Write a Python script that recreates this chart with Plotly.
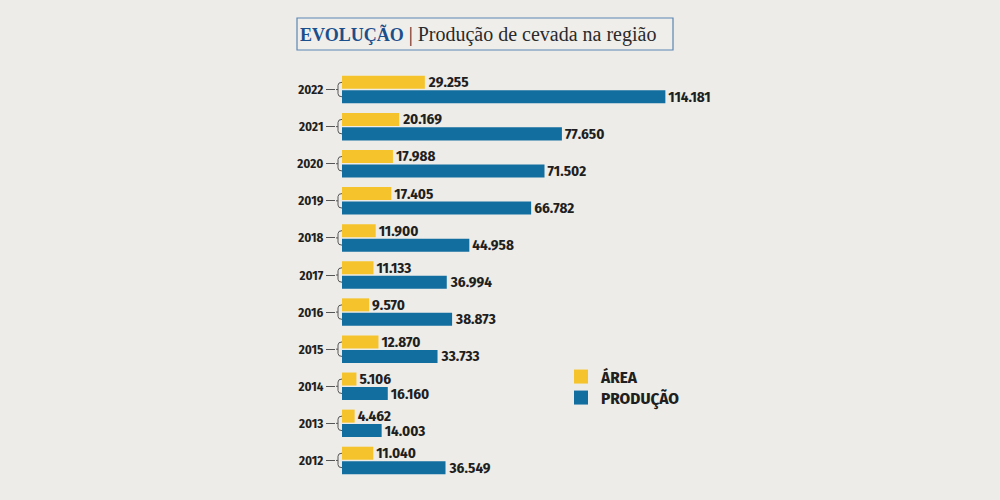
import plotly.graph_objects as go

# ---- data ----
anos = [2012, 2013, 2014, 2015, 2016, 2017, 2018, 2019, 2020, 2021, 2022]
area = [11040, 4462, 5106, 12870, 9570, 11133, 11900, 17405, 17988, 20169, 29255]
producao = [36549, 14003, 16160, 33733, 38873, 36994, 44958, 66782, 71502, 77650, 114181]
serie_nomes = ["ÁREA", "PRODUÇÃO"]
titulo_destaque = "EVOLUÇÃO"
titulo_resto = "| Produção de cevada na região"

# ---- style / layout constants ----
W, H = 1000, 500
ML, MR, MT, MB = 336, 260, 71, 21
AMARELO = "#f5c42c"
AZUL = "#136ea0"
TEXTO = "#1f1f1f"
BG = "#eeece8"
FONTE = "'Fira Sans Condensed', 'Roboto Condensed', 'Open Sans Condensed', sans-serif"
UNITS_PER_PX = 353.1          # x-axis scale
X0_PX = 6                     # bar base offset from plot left edge
x_min = -X0_PX * UNITS_PER_PX
x_max = (W - ML - MR - X0_PX) * UNITS_PER_PX
BARGAP = 0.22
OFF = (1 - BARGAP) / 4        # centre offset of each bar inside a group

pw = W - ML - MR
ph = H - MT - MB


def px_x(px):
    return (px - ML) / pw


def px_y(py):
    return 1 - (py - MT) / ph


fig = go.Figure()
# production first (lower bar in each group), area second (upper bar)
fig.add_trace(go.Bar(
    y=anos, x=producao, orientation="h", name=serie_nomes[1], showlegend=False,
    marker=dict(color=AZUL, line=dict(width=0)),
    texttemplate="%{x:,}", textposition="outside", cliponaxis=False,
    constraintext="none",
    textfont=dict(family=FONTE, size=15, color=TEXTO, weight="bold"),
))
fig.add_trace(go.Bar(
    y=anos, x=area, orientation="h", name=serie_nomes[0], showlegend=False,
    marker=dict(color=AMARELO, line=dict(width=0)),
    texttemplate="%{x:,}", textposition="outside", cliponaxis=False,
    constraintext="none",
    textfont=dict(family=FONTE, size=15, color=TEXTO, weight="bold"),
))
# legend entries (square swatches), one legend box each
for nome, cor, leg in [(serie_nomes[0], AMARELO, "legend"), (serie_nomes[1], AZUL, "legend2")]:
    fig.add_trace(go.Scatter(
        x=[None], y=[None], mode="markers", name=nome, legend=leg,
        marker=dict(symbol="square", size=14, color=cor, line=dict(width=0)),
        hoverinfo="skip",
    ))

# bracket connectors for every year
shapes = []
xv = -(X0_PX - 2) * UNITS_PER_PX
r = 3 / (ph / 11)
for a in anos:
    yt, yb = a + OFF, a - OFF
    path = (f"M 0,{yt} Q {xv},{yt} {xv},{yt - r} L {xv},{yb + r} "
            f"Q {xv},{yb} 0,{yb} M {x_min},{a} L {xv},{a}")
    shapes.append(dict(type="path", xref="x", yref="y", path=path,
                       line=dict(color="#555555", width=1)))

# title box
shapes.append(dict(type="rect", xref="paper", yref="paper",
                   x0=px_x(297), x1=px_x(673), y0=px_y(18), y1=px_y(50),
                   line=dict(color="#5b86b3", width=1.2), fillcolor="rgba(255,255,255,0.15)"))

fig.add_annotation(
    xref="paper", yref="paper", x=px_x(298), y=px_y(34),
    xanchor="left", yanchor="middle", showarrow=False,
    text=(f"<span style='color:#1b4f8c;font-size:18px'><b>{titulo_destaque}</b></span>"
          f" {titulo_resto}"),
    font=dict(family="Liberation Serif, Times New Roman, serif", size=20, color="#2a2a2a"),
)

leg_common = dict(
    xanchor="left", yanchor="top", bgcolor="rgba(0,0,0,0)",
    font=dict(family=FONTE, size=17, color=TEXTO, weight="bold"),
    itemwidth=30,
)

fig.update_layout(
    width=W, height=H,
    margin=dict(l=ML, r=MR, t=MT, b=MB, pad=0),
    paper_bgcolor=BG, plot_bgcolor="rgba(0,0,0,0)",
    barmode="group", bargap=BARGAP, bargroupgap=0.1,
    separators=",.",
    shapes=shapes,
    showlegend=True,
    legend=dict(x=px_x(561), y=px_y(359), **leg_common),
    legend2=dict(x=px_x(561), y=px_y(380), **leg_common),
    xaxis=dict(range=[x_min, x_max], visible=False, showgrid=False, zeroline=False),
    yaxis=dict(
        range=[anos[0] - 0.5, anos[-1] + 0.5],
        tickvals=anos, ticktext=[str(a) for a in anos],
        ticks="outside", ticklen=9, tickcolor="#555555", tickwidth=1,
        showline=False, showgrid=False, zeroline=False,
        tickfont=dict(family=FONTE, size=13, color=TEXTO, weight="bold"),
    ),
)

fig.write_html(
    "out.html",
    config={"displayModeBar": False},
    post_script=f"document.body.style.margin='0';document.body.style.background='{BG}';",
)
